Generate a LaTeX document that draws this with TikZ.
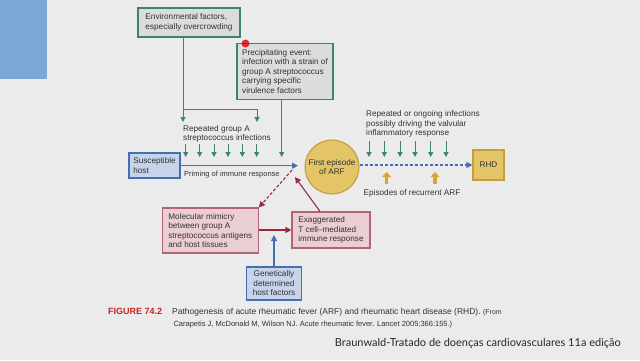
\documentclass[tikz,border=0pt]{standalone}
\usepackage{fontspec}
\setmainfont{Liberation Sans}
\newfontfamily\brfont{Lato}
\usetikzlibrary{arrows.meta,shapes.geometric}
\definecolor{bgc}{RGB}{235,235,235}
\definecolor{slideblue}{RGB}{122,167,211}
\definecolor{grn}{RGB}{62,132,104}
\definecolor{grayfill}{RGB}{218,221,219}
\definecolor{blu}{RGB}{70,110,178}
\definecolor{blufill}{RGB}{198,211,233}
\definecolor{gold}{RGB}{227,196,102}
\definecolor{golddark}{RGB}{196,158,62}
\definecolor{goldarrow}{RGB}{214,166,52}
\definecolor{pinkfill}{RGB}{235,206,212}
\definecolor{pinkline}{RGB}{178,100,116}
\definecolor{dred}{RGB}{150,42,62}
\definecolor{figred}{RGB}{190,40,40}
\definecolor{txt}{RGB}{50,50,50}
\tikzset{
  boxbase/.style={draw, line width=1.1pt, inner sep=3pt, font=\fontsize{8.2}{9.5}\selectfont, text=txt},
  graybox/.style={boxbase, draw=grn, fill=grayfill},
  bluebox/.style={boxbase, draw=blu, fill=blufill},
  pinkbox/.style={boxbase, draw=pinkline, fill=pinkfill},
  goldbox/.style={boxbase, draw=golddark, fill=gold},
  garrow/.style={draw=grn, line width=1pt, -{Triangle[width=5pt,length=5pt]}},
  barrow/.style={draw=blu, line width=1.1pt, -{Triangle[width=6pt,length=6pt]}},
  rarrow/.style={draw=dred, line width=1.1pt, -{Triangle[width=6pt,length=6pt]}},
  goldup/.style={draw=goldarrow, line width=3.2pt, -{Triangle[width=9pt,length=5pt]}},
  lbl/.style={font=\fontsize{8.2}{9.5}\selectfont, text=txt, inner sep=0pt, align=left}
}
\begin{document}
\begin{tikzpicture}[x=1pt,y=-1pt]
\useasboundingbox (0,0) rectangle (640,360);
\fill[bgc] (0,0) rectangle (640,360);
\fill[slideblue] (0,0) rectangle (47,79);

% boxes
\node[graybox, minimum width=102pt, minimum height=29pt, align=left] (env) at (189,22.5)
  {Environmental factors,\\especially overcrowding};
\node[graybox, minimum width=96pt, minimum height=56pt, align=left] (precip) at (285,71.5)
  {Precipitating event:\\infection with a strain of\\group A streptococcus\\carrying specific\\virulence factors};
\node[bluebox, minimum width=51pt, minimum height=25pt, align=left] (host) at (154.5,165.5)
  {Susceptible\\host};
\node[circle, draw=golddark, fill=gold, line width=1.1pt, minimum size=54pt, inner sep=0pt, align=center,
  font=\fontsize{8.2}{9}\selectfont, text=txt] (arf) at (332,167) {First episode\\of ARF};
\node[goldbox, minimum width=31pt, minimum height=30pt] (rhd) at (488.5,165) {RHD};
\node[pinkbox, minimum width=96pt, minimum height=45pt, align=left] (mimic) at (210.3,230.5)
  {Molecular mimicry\\between group A\\streptococcus antigens\\and host tissues};
\node[pinkbox, minimum width=78pt, minimum height=36pt, align=left] (exag) at (331,230)
  {Exaggerated\\T cell--mediated\\immune response};
\node[bluebox, minimum width=55pt, minimum height=33pt, align=center] (gen) at (274,283.5)
  {Genetically\\determined\\host factors};

% labels
\node[lbl, anchor=west] (rep) at (183,134) {Repeated group A\\streptococcus infections};
\node[lbl, anchor=west, font=\fontsize{7.5}{9}\selectfont] (prim) at (184,175) {Priming of immune response};
\node[lbl, anchor=west] (ong) at (366,124) {Repeated or ongoing infections\\possibly driving the valvular\\inflammatory response};
\node[lbl, anchor=center] (epi) at (412,193) {Episodes of recurrent ARF};

% green connectors
\coordinate (g1) at (183,122);
\coordinate (g2) at (257,122);
\coordinate (gb) at (183,109);
\coordinate (p1) at (281.7,157);
\draw[garrow] (env.south -| g1) -- (g1);
\draw[garrow] (gb) -| (g2);
\draw[garrow] (precip.south -| p1) -- (p1);
\foreach \i/\xx in {1/185.7,2/199.7,3/214,4/228,5/242.3,6/256.7}{
  \coordinate (sa\i) at (\xx,144);
  \draw[garrow] (sa\i) -- (\xx,157);
}
\foreach \i/\xx in {1/369,2/384.3,3/400,4/415,5/430.7,6/446}{
  \coordinate (sb\i) at (\xx,141);
  \draw[garrow] (sb\i) -- (\xx,157);
}

% main axis
\coordinate (tipA) at (298,165.7);
\draw[barrow] (host.east |- tipA) -- (tipA);
\draw[barrow, dashed, dash pattern=on 3pt off 2pt] (arf.east |- rhd.west) -- (rhd.west);

% gold up arrows
\foreach \i/\xx in {1/386.7,2/435}{
  \coordinate (ga\i) at (\xx,184);
  \draw[goldup] (ga\i) -- (\xx,172);
}

% lower connectors
\draw[rarrow] (mimic.east |- 0,230) -- (exag.west |- 0,230);
\coordinate (gt) at (274,235);
\draw[barrow] (gen.north) -- (gt);
\coordinate (ds) at (292,170);
\draw[rarrow, dashed, dash pattern=on 3pt off 2pt] (ds) -- (mimic.north east);
\coordinate (et) at (295,177);
\draw[rarrow] (exag.north -| 320,0) -- (et);

% pointer dot
\fill[red!85!black, opacity=0.8] (245.5,43.5) circle (4pt);

% caption
\node[anchor=base west, inner sep=0pt, font=\fontsize{9}{10}\selectfont\bfseries, text=figred] (fig) at (108,314) {FIGURE 74.2};
\node[anchor=base west, inner sep=0pt, font=\fontsize{8.5}{10}\selectfont, text=txt] (cap1) at (172,314)
  {Pathogenesis of acute rheumatic fever (ARF) and rheumatic heart disease (RHD). {\fontsize{7}{8}\selectfont (From}};
\node[anchor=base west, inner sep=0pt, font=\fontsize{7.5}{8}\selectfont, text=txt] (cap2) at (173.3,326)
  {Carapetis J, McDonald M, Wilson NJ. Acute rheumatic fever. Lancet 2005;366:155.)};
\node[anchor=base east, inner sep=0pt, font=\brfont\fontsize{11}{12}\selectfont, text=black!85] (src) at (621,346)
  {Braunwald-Tratado de doenças cardiovasculares 11a edição};
\end{tikzpicture}
\end{document}
